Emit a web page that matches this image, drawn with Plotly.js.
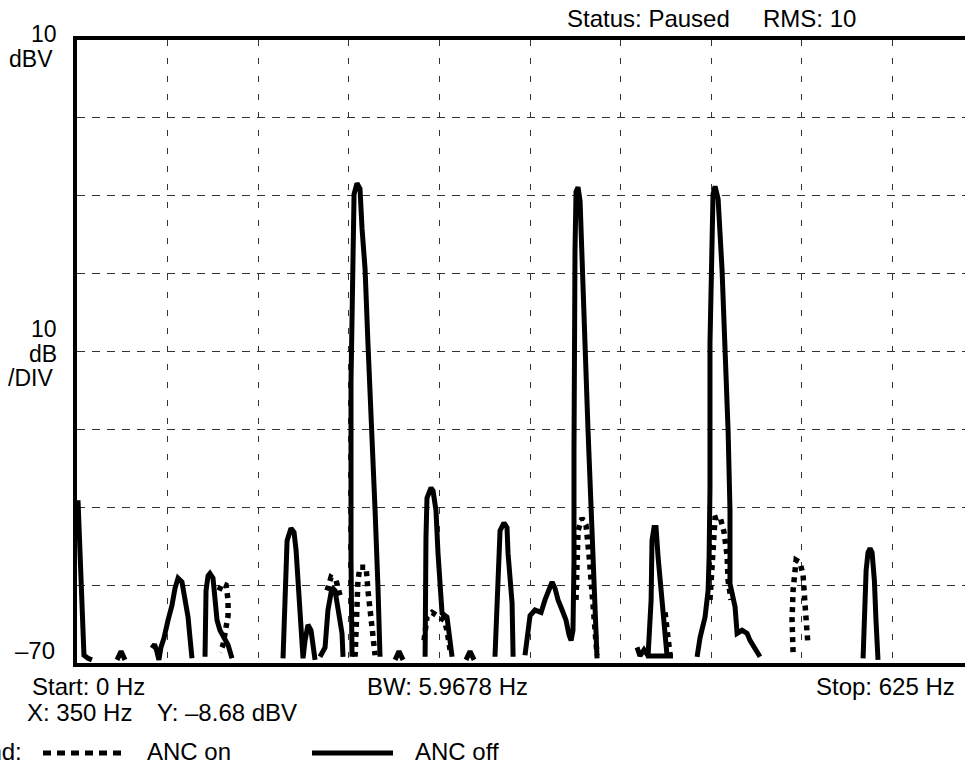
<!DOCTYPE html>
<html><head><meta charset="utf-8">
<script src="https://cdn.plot.ly/plotly-3.0.1.min.js"></script>
<style>html,body{margin:0;padding:0;background:#fff;overflow:hidden}#chart{width:965px;height:768px}</style>
</head><body><div id="chart"></div>
<script>
// ANC off (solid) spectrum, Hz / dBV; null = trace below screen
const ancOffHz = [
 0.7,2.1,3.4,4.8,7.6,10.3,null,
 27.6,30.4,33.1,null,
 51.7,53.5,55.2,56.5,57.9,60.0,62.8,65.5,67.6,69.7,72.4,74.5,76.6,77.9,79.3,null,
 88.3,88.3,89.0,90.4,91.7,93.8,95.2,96.6,98.6,101.4,104.2,106.9,null,
 142.1,142.8,143.5,144.9,147.6,149.7,151.1,152.4,154.5,155.9,157.3,159.3,161.4,162.8,164.2,null,
 167.6,171.1,173.1,175.9,178.0,180.0,182.8,183.5,null,
 189.7,189.0,189.0,190.4,191.1,193.1,195.2,196.6,198.7,200.7,203.5,205.6,207.6,209.0,null,
 219.4,222.1,224.9,null,
 240.1,240.1,240.7,241.4,244.2,245.6,247.6,249.0,251.8,255.2,257.3,258.7,null,
 268.3,271.1,273.9,null,
 288.3,289.7,290.4,291.8,294.5,296.6,297.3,300.1,300.8,null,
 309.0,310.4,312.5,315.9,320.1,322.8,325.6,327.7,329.7,331.8,334.6,337.3,339.4,340.8,342.1,342.8,342.8,342.8,343.5,344.2,345.6,347.0,348.3,350.4,352.5,355.2,357.3,358.7,null,
 386.3,388.3,391.1,393.9,396.0,396.6,398.0,399.4,400.8,403.5,405.6,407.0,null,
 392.5,411.1,null,
 427.7,429.8,433.2,435.3,436.0,436.6,436.6,438.0,438.7,440.1,442.2,444.9,447.0,449.1,450.4,450.4,453.9,455.3,458.7,462.2,464.2,467.7,471.1,null,
 542.2,542.9,544.3,545.6,547.0,548.4,550.0,551.1,552.5
];
const ancOffDbv = [
 -49.1,-56.8,-64.5,-69.0,-69.4,-69.6,null,
 -69.6,-68.5,-69.6,null,
 -68.1,-67.6,-68.6,-69.6,-68.0,-66.8,-64.5,-62.6,-60.4,-59.1,-59.6,-61.6,-64.1,-66.7,-69.4,null,
 -69.2,-64.5,-60.7,-58.8,-58.5,-59.1,-61.3,-64.5,-65.8,-66.8,-67.7,-69.4,null,
 -69.4,-64.5,-58.1,-54.3,-52.7,-53.2,-55.5,-59.4,-64.5,-69.4,-67.1,-65.1,-65.8,-67.7,-69.6,null,
 -69.2,-68.0,-63.2,-60.3,-60.7,-62.8,-66.2,-69.2,null,
 -69.2,-56.8,-33.8,-16.2,-9.8,-8.4,-9.1,-14.2,-19.4,-29.0,-40.2,-50.4,-60.3,-69.2,null,
 -69.6,-68.5,-69.6,null,
 -69.2,-62.3,-53.9,-48.8,-47.5,-47.9,-50.4,-55.9,-63.6,-64.1,-66.7,-69.2,null,
 -69.6,-68.5,-69.6,null,
 -69.2,-62.3,-55.9,-53.0,-52.0,-52.6,-55.9,-62.3,-69.2,null,
 -69.0,-66.4,-63.9,-63.2,-63.5,-61.9,-60.4,-59.6,-60.4,-61.9,-63.2,-64.5,-66.4,-67.1,-65.8,-56.8,-42.7,-31.2,-17.1,-9.5,-8.9,-10.7,-19.4,-29.0,-40.2,-52.6,-63.2,-69.4,null,
 -68.0,-69.1,-68.3,-69.1,-61.9,-54.3,-52.6,-52.6,-56.4,-61.9,-66.7,-69.1,null,
 -69.1,-69.1,null,
 -69.2,-66.7,-64.1,-60.7,-56.4,-47.5,-29.0,-18.4,-9.8,-8.8,-10.4,-19.4,-29.0,-40.2,-50.4,-59.8,-62.8,-66.2,-65.8,-66.2,-67.1,-68.3,-69.2,null,
 -69.4,-63.2,-58.1,-55.8,-55.3,-55.8,-59.4,-64.5,-69.6
];
// ANC on (dotted) spectrum, visible parts
const ancOnHz = [
 98.0,100.0,102.8,104.2,104.2,102.8,100.7,98.6,null,
 172.5,175.2,178.7,181.4,null,
 191.8,192.5,193.8,195.2,199.4,200.7,202.8,204.2,205.6,null,
 239.4,241.4,244.9,249.0,253.2,255.2,257.3,null,
 344.2,344.9,345.6,348.3,351.1,353.2,355.2,356.6,358.7,null,
 405.6,407.0,407.7,409.1,null,
 436.6,438.0,438.7,440.1,443.5,446.3,448.4,449.1,451.1,null,
 493.9,493.2,493.9,496.0,498.7,500.8,502.2,503.6,504.2
];
const ancOnDbv = [
 -60.7,-59.8,-60.0,-61.9,-63.9,-65.8,-67.7,-68.6,null,
 -60.7,-59.0,-59.4,-61.3,null,
 -69.2,-64.5,-59.4,-57.7,-57.7,-60.7,-63.9,-66.4,-69.0,null,
 -67.1,-64.1,-63.5,-63.9,-64.5,-65.8,-68.3,null,
 -61.9,-56.8,-53.0,-51.4,-52.3,-56.2,-60.7,-64.5,-69.0,null,
 -63.5,-65.4,-67.1,-69.0,null,
 -61.9,-57.8,-54.3,-51.4,-51.2,-53.2,-56.2,-59.4,-61.9,null,
 -68.6,-64.5,-60.7,-56.8,-57.1,-58.7,-62.6,-65.8,-67.7
];
const seriesNames = ['ANC on','ANC off'];
const xRange = [0, 612.5];   // Hz
const yRange = [-70, 10];    // dBV
const xDiv = 62.5, yDiv = 10;

const W = 965, H = 768, M = {l:77, r:0, t:40, b:105};
const pw = W - M.l - M.r, ph = H - M.t - M.b;
const px = x => (x - M.l) / pw;
const py = y => (H - M.b - y) / ph;
const FONT = 'Liberation Sans, Arial, sans-serif';

function lab(text, x, y, anchor, size){
  return {text, xref:'paper', yref:'paper', x:px(x), y:py(y), xanchor:anchor, yanchor:'middle',
    showarrow:false, font:{family:FONT, size:size||24, color:'#000'}, borderpad:0};
}
const annotations = [
  lab('10', 58, 34.5, 'right', 23),
  lab('dBV', 54, 59, 'right', 23),
  lab('10', 58, 329, 'right', 23),
  lab('dB', 58, 354, 'right', 23),
  lab('/DIV', 54, 378, 'right', 23),
  lab('\u201370', 56, 650, 'right'),
  lab('Status: Paused', 566, 18.5, 'left'),
  lab('RMS: 10', 762, 18.5, 'left'),
  lab('Start: 0 Hz', 31, 686, 'left'),
  lab('BW: 5.9678 Hz', 366, 686, 'left'),
  lab('Stop: 625 Hz', 815, 686, 'left'),
  lab('X: 350 Hz', 26, 712, 'left'),
  lab('Y: \u20138.68 dBV', 156, 712, 'left'),
  lab('Legend:', 23, 751, 'right'),
  lab(seriesNames[0], 146, 751, 'left'),
  lab(seriesNames[1], 414, 751, 'left')
];
const shapes = [
  {type:'line', xref:'paper', yref:'paper', x0:px(43), x1:px(123), y0:py(753), y1:py(753),
   line:{color:'#000', width:5, dash:'8px,6px'}},
  {type:'line', xref:'paper', yref:'paper', x0:px(312), x1:px(393), y0:py(753), y1:py(753),
   line:{color:'#000', width:5}}
];

const data = [
  {x:ancOnHz, y:ancOnDbv, name:seriesNames[0], mode:'lines', connectgaps:false,
   line:{color:'#000', width:5.5, dash:'5px,5px'}, hoverinfo:'skip'},
  {x:ancOffHz, y:ancOffDbv, name:seriesNames[1], mode:'lines', connectgaps:false,
   line:{color:'#000', width:5}, hoverinfo:'skip'}
];
const layout = {
  width:W, height:H, margin:{l:M.l, r:M.r, t:M.t, b:M.b, pad:0, autoexpand:false},
  paper_bgcolor:'#fff', plot_bgcolor:'#fff', showlegend:false,
  font:{family:FONT, size:24, color:'#000'},
  xaxis:{range:xRange, tick0:0, dtick:xDiv, showgrid:true, gridcolor:'#333', gridwidth:1,
    griddash:'6px,12px', zeroline:false, showticklabels:false, ticks:'',
    showline:true, mirror:true, linecolor:'#000', linewidth:4, fixedrange:true},
  yaxis:{range:yRange, tick0:-70, dtick:yDiv, showgrid:true, gridcolor:'#333', gridwidth:1,
    griddash:'8px,7px', zeroline:false, showticklabels:false, ticks:'',
    showline:true, mirror:false, linecolor:'#000', linewidth:4, fixedrange:true},
  annotations, shapes
};
Plotly.newPlot('chart', data, layout, {displayModeBar:false, staticPlot:true});
</script>
</body></html>
